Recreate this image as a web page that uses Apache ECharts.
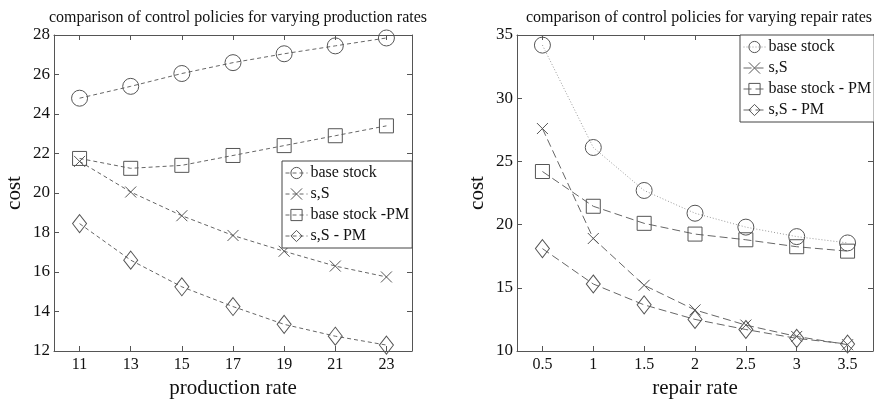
<!DOCTYPE html>
<html>
<head>
<meta charset="utf-8">
<script src="https://cdn.jsdelivr.net/npm/echarts@6/dist/echarts.min.js"></script>
<style>
html,body{margin:0;padding:0;background:#fff;}
#c{width:874px;height:404px;}
</style>
</head>
<body>
<div id="c"></div>
<script>
// ---- data ----
var prodRates = ['11', '13', '15', '17', '19', '21', '23'];
var prodBaseStock = [24.8, 25.4, 26.05, 26.6, 27.05, 27.45, 27.85];
var prodSS = [21.6, 20.05, 18.85, 17.85, 17.05, 16.3, 15.75];
var prodBaseStockPM = [21.75, 21.25, 21.4, 21.9, 22.4, 22.9, 23.4];
var prodSSPM = [18.45, 16.6, 15.25, 14.25, 13.35, 12.75, 12.3];

var repairRates = ['0.5', '1', '1.5', '2', '2.5', '3', '3.5'];
var repBaseStock = [34.2, 26.1, 22.7, 20.9, 19.8, 19.05, 18.55];
var repSS = [27.6, 18.9, 15.2, 13.25, 12.05, 11.15, 10.5];
var repBaseStockPM = [24.2, 21.45, 20.1, 19.25, 18.8, 18.25, 17.9];
var repSSPM = [18.1, 15.3, 13.65, 12.5, 11.7, 11.0, 10.55];

var leftYTicks = {min: 12, max: 28, interval: 2};
var rightYTicks = {min: 10, max: 35, interval: 5};

var leftNames = ['base stock', 's,S', 'base stock -PM', 's,S - PM'];
var rightNames = ['base stock', 's,S', 'base stock - PM', 's,S - PM'];

// ---- styling ----
var FONT = '"Liberation Serif", "Times New Roman", serif';
var AX = '#555';
var MK = '#555';
var crossPath = 'path://M0,0L10,10M10,0L0,10';

function xAxes(idx, data) {
  var base = {
    type: 'category', gridIndex: idx, data: data, boundaryGap: true,
    axisLine: {show: true, lineStyle: {color: AX, width: 1}},
    axisTick: {show: true, inside: true, length: 5, alignWithLabel: true, lineStyle: {color: AX}},
    splitLine: {show: false}
  };
  var bottom = Object.assign({}, base, {
    position: 'bottom',
    axisLabel: {fontFamily: FONT, fontSize: 16, color: '#111', margin: 6},
    name: idx === 0 ? 'production rate' : 'repair rate',
    nameLocation: 'middle', nameGap: 27,
    nameTextStyle: {fontFamily: FONT, fontSize: 21, color: '#111'}
  });
  var top = Object.assign({}, base, {position: 'top', axisLabel: {show: false}});
  return [bottom, top];
}
function yAxes(idx, t) {
  var base = {
    type: 'value', gridIndex: idx, min: t.min, max: t.max, interval: t.interval,
    axisLine: {show: true, lineStyle: {color: AX, width: 1}},
    axisTick: {show: true, inside: true, length: 5, lineStyle: {color: AX}},
    splitLine: {show: false}
  };
  var left = Object.assign({}, base, {
    position: 'left',
    axisLabel: {fontFamily: FONT, fontSize: 17, color: '#111', margin: 4},
    name: 'cost', nameLocation: 'middle', nameGap: 29, nameRotate: 90,
    nameTextStyle: {fontFamily: FONT, fontSize: 21, color: '#111'}
  });
  var right = Object.assign({}, base, {position: 'right', axisLabel: {show: false}});
  return [left, right];
}

function ser(name, data, xi, yi, symbol, size, dash, color) {
  return {
    name: name, type: 'line', data: data, xAxisIndex: xi, yAxisIndex: yi,
    symbol: symbol, symbolSize: size, showSymbol: true,
    lineStyle: {color: color || '#666', width: 1, type: dash},
    itemStyle: {color: 'rgba(0,0,0,0)', borderColor: MK, borderWidth: 1},
    emphasis: {disabled: true}, animation: false, z: 3
  };
}

var xs = xAxes(0, prodRates).concat(xAxes(1, repairRates));
var ys = yAxes(0, leftYTicks).concat(yAxes(1, rightYTicks));

var dashL = [4, 3];
var dashR = [8, 4];

var series = [
  ser(leftNames[0] + '#L', prodBaseStock, 0, 0, 'circle', 16, dashL),
  ser(leftNames[1] + '#L', prodSS, 0, 0, crossPath, 11, dashL),
  ser(leftNames[2] + '#L', prodBaseStockPM, 0, 0, 'rect', 14, dashL),
  ser(leftNames[3] + '#L', prodSSPM, 0, 0, 'diamond', [14, 18], dashL),
  ser(rightNames[0] + '#R', repBaseStock, 2, 2, 'circle', 16, [1, 2], '#999'),
  ser(rightNames[1] + '#R', repSS, 2, 2, crossPath, 11, dashR),
  ser(rightNames[2] + '#R', repBaseStockPM, 2, 2, 'rect', 14, dashR),
  ser(rightNames[3] + '#R', repSSPM, 2, 2, 'diamond', [14, 18], dashR)
];

function legend(names, suffix, pos) {
  return Object.assign({
    orient: 'vertical', data: names.map(function (n) { return n + suffix; }),
    formatter: function (n) { return n.split('#')[0]; },
    backgroundColor: '#fff', borderColor: '#444', borderWidth: 1,
    itemWidth: 22, itemHeight: 14, itemGap: 5, padding: [4, 3, 4, 3],
    selectedMode: false,
    itemStyle: {color: 'rgba(0,0,0,0)', borderColor: MK, borderWidth: 1},
    lineStyle: {width: 1},
    textStyle: {fontFamily: FONT, fontSize: 16, color: '#111', lineHeight: 14, padding: [0, 0, 0, -2]}
  }, pos);
}

var option = {
  animation: false,
  title: [
    {text: 'comparison of control policies for varying production rates', left: 233, top: 5, textAlign: 'center',
     textStyle: {fontFamily: FONT, fontSize: 16, fontWeight: 'normal', color: '#111'}},
    {text: 'comparison of control policies for varying repair rates', left: 694, top: 5, textAlign: 'center',
     textStyle: {fontFamily: FONT, fontSize: 16, fontWeight: 'normal', color: '#111'}}
  ],
  grid: [
    {left: 54, right: 462, top: 35, bottom: 53},
    {left: 517, right: 1, top: 35, bottom: 53}
  ],
  xAxis: xs,
  yAxis: ys,
  legend: [
    legend(leftNames, '#L', {left: 282, top: 161}),
    legend(rightNames, '#R', {left: 740, top: 35})
  ],
  series: series
};

var chart = echarts.init(document.getElementById('c'), null, {renderer: 'canvas'});
chart.setOption(option);
</script>
</body>
</html>
